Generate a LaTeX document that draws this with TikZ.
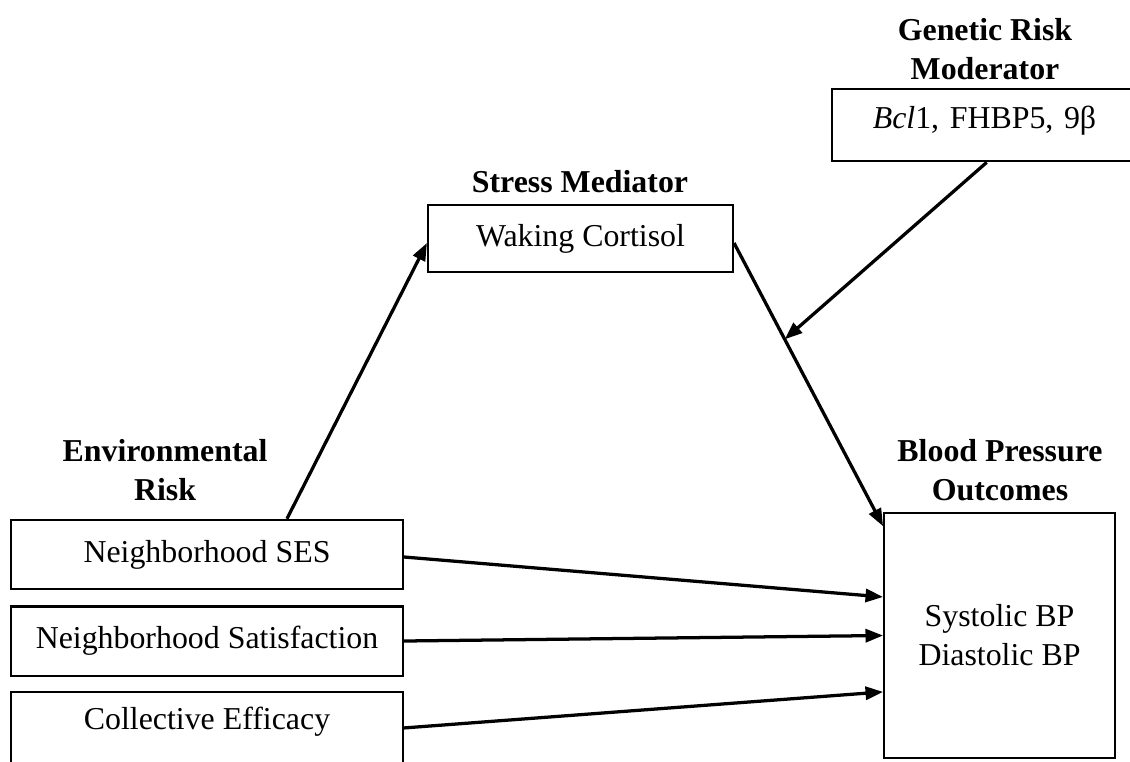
\documentclass[tikz,border=0pt]{standalone}
\usepackage{fontspec}
\setmainfont{Liberation Serif}
\usetikzlibrary{arrows.meta}

\begin{document}
\begin{tikzpicture}[x=0.014cm,y=-0.014cm,
  box/.style={draw,line width=0.9pt,inner sep=0pt,align=center,font=\fontsize{12.7}{15.5}\selectfont},
  head/.style={align=center,font=\fontsize{12.7}{15.5}\selectfont\bfseries},
  arr/.style={-{Triangle[length=7pt,width=5.2pt]},line width=1.3pt}]
  \useasboundingbox (0,0) rectangle (1130,761);
  % predictors
  \node[box,minimum width=5.49cm,minimum height=0.97cm] (ses) at (207,554.5) {Neighborhood SES};
  \node[box,minimum width=5.49cm,minimum height=0.97cm] (sat) at (207,641) {Neighborhood Satisfaction};
  \node[box,minimum width=5.49cm,minimum height=1.1cm,text depth=0.36cm] (coll) at (207,731.5) {Collective Efficacy};
  \node[head] (env) at (165,470) {Environmental\\Risk};
  % mediator and moderator
  \node[box,minimum width=4.27cm,minimum height=0.94cm] (cort) at (580.5,238.5) {Waking Cortisol};
  \node[head] (stress) at (580,182) {Stress Mediator};
  \node[box,anchor=north west,inner xsep=0.57cm,text width=3.19cm,align=left,minimum height=1.01cm,text depth=0.22cm] (gene) at (831,88) {\textit{Bcl}1, FHBP5, 9β};
  \node[head] (genehead) at (985,49) {Genetic Risk\\Moderator};
  % outcomes
  \node[box,minimum width=3.23cm,minimum height=3.43cm] (bp) at (999.5,635.5) {Systolic BP\\Diastolic BP};
  \node[head] (bphead) at (1000,470) {Blood Pressure\\Outcomes};
  % paths
  \draw[arr] ([xshift=1.12cm]ses.north) -- ([yshift=-0.063cm]cort.west);
  \draw[arr] ([yshift=-0.063cm]cort.east) -- coordinate[pos=0.34] (mod) ([yshift=-0.2cm]bp.north west);
  \draw[arr] (gene.south) -- (mod);
  \draw[arr] ([yshift=-0.035cm]ses.east) -- ([yshift=0.54cm]bp.west);
  \draw[arr] (sat.east) -- (bp.west);
  \draw[arr] ([yshift=0.05cm]coll.east) -- ([yshift=-0.79cm]bp.west);
\end{tikzpicture}
\end{document}
